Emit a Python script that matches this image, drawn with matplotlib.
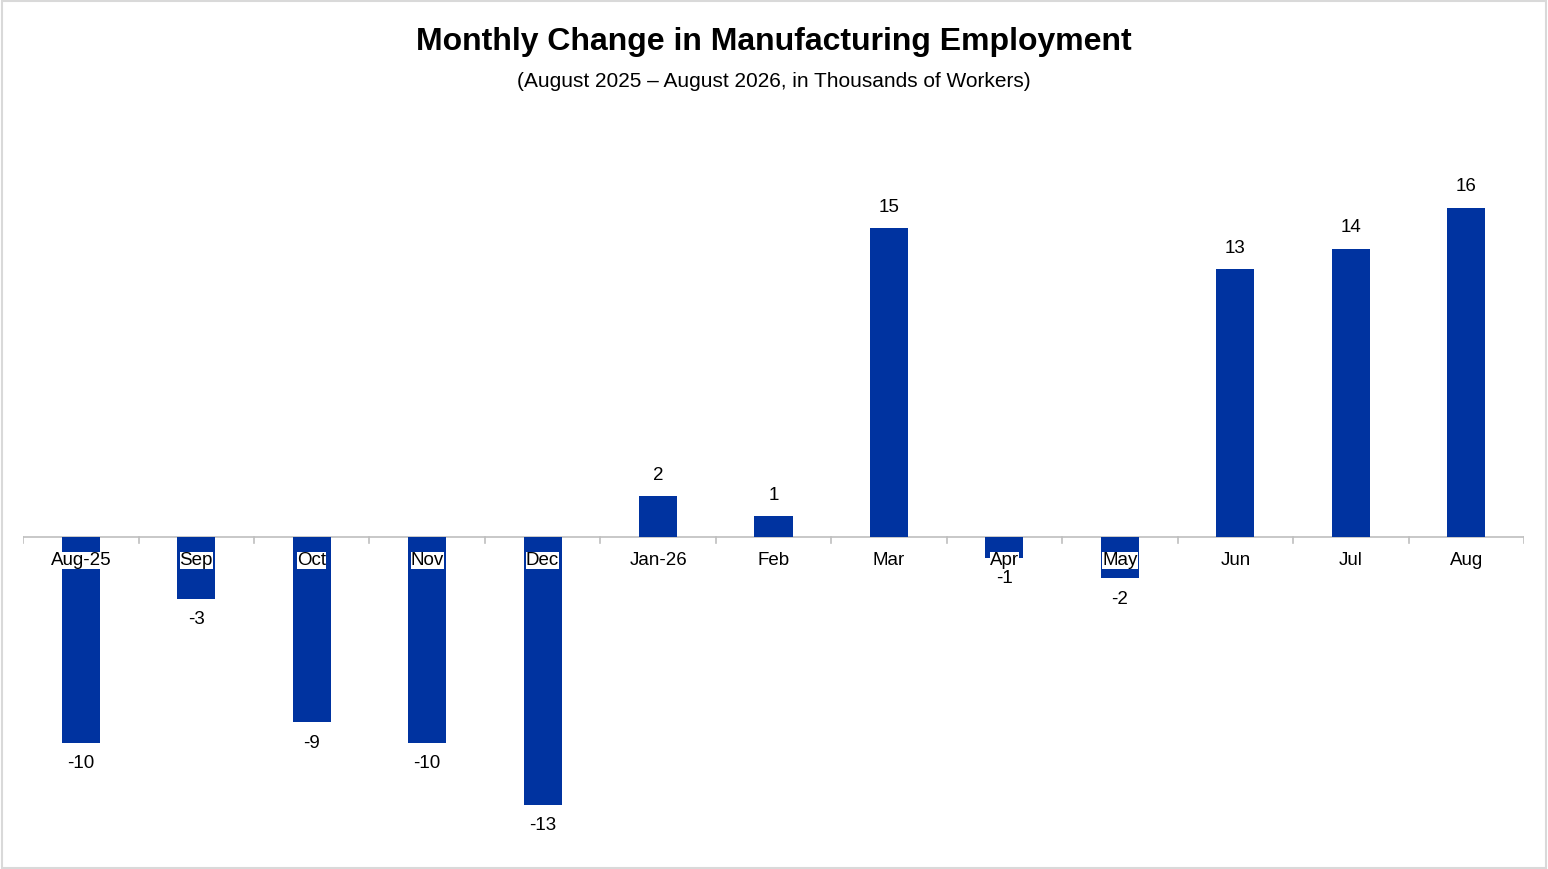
import matplotlib.pyplot as plt
import numpy as np

plt.rcParams['font.family'] = ['Liberation Sans', 'DejaVu Sans']

months = ['Aug-25', 'Sep', 'Oct', 'Nov', 'Dec', 'Jan-26', 'Feb', 'Mar',
          'Apr', 'May', 'Jun', 'Jul', 'Aug']
changes = [-10, -3, -9, -10, -13, 2, 1, 15, -1, -2, 13, 14, 16]

bar_color = '#0033a0'

fig = plt.figure(figsize=(15.48, 8.69), dpi=100)
ax = fig.add_axes([0.0149, 0.0219, 0.9696, 0.8055])

x = np.arange(len(months))
bars = ax.bar(x, changes, width=0.33, color=bar_color, zorder=2)

ax.set_xlim(-0.5, len(months) - 0.5)
ax.set_ylim(-15.2, 18.8)

# zero line with small category dividers
ax.axhline(0, color='#bfbfbf', lw=1.2, zorder=1)
for b in np.arange(-0.5, len(months), 1.0):
    ax.plot([b, b], [0, -0.3], color='#bfbfbf', lw=1.2, zorder=1)

# month labels sit on the zero line, boxed in white over the bars
for xi, m in zip(x, months):
    ax.annotate(m, (xi, 0), xytext=(0, -17), textcoords='offset points',
                ha='center', va='center', fontsize=13.5, zorder=4,
                bbox=dict(boxstyle='square,pad=0.0', fc='white', ec='none'))

for xi, v in zip(x, changes):
    off = 15 if v > 0 else -15
    ax.annotate(f'{v}', (xi, v), xytext=(0, off), textcoords='offset points',
                ha='center', va='center', fontsize=13.5, zorder=4)

for s in ax.spines.values():
    s.set_visible(False)
ax.set_xticks([])
ax.set_yticks([])

fig.text(0.5, 0.952, 'Monthly Change in Manufacturing Employment',
         ha='center', va='center', fontsize=23, fontweight='bold')
fig.text(0.5, 0.906, '(August 2025 \u2013 August 2026, in Thousands of Workers)',
         ha='center', va='center', fontsize=15)

fig.patches.append(plt.Rectangle((0.001, 0.001), 0.998, 0.998, transform=fig.transFigure,
                                 fill=False, ec='#d9d9d9', lw=1.5))

fig.savefig('out.png', dpi=100)
